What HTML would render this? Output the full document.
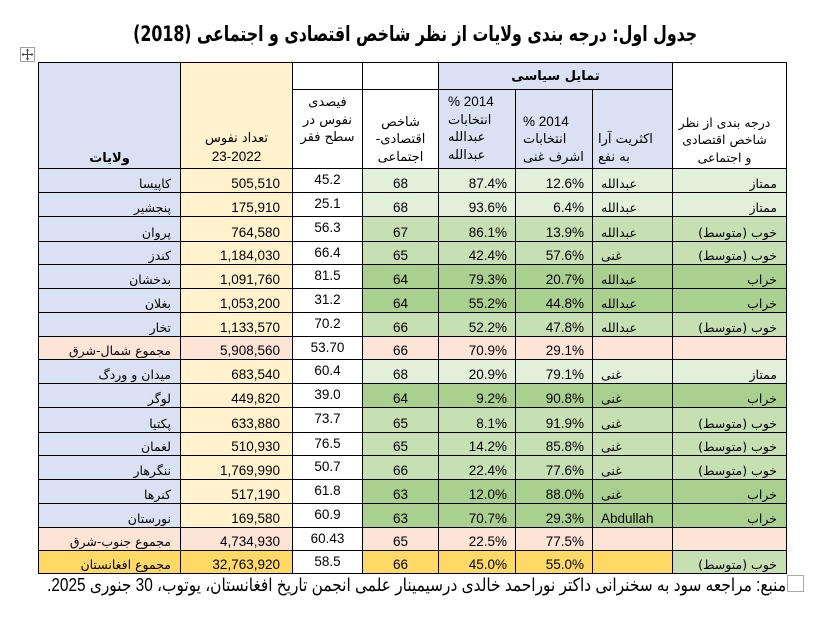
<!DOCTYPE html>
<html><head><meta charset="utf-8">
<style>
html,body{margin:0;padding:0;background:#fff;}
#pg{position:relative;width:820px;height:620px;overflow:hidden;background:#fff;font-family:"Liberation Sans","DejaVu Sans",sans-serif;color:#000;}
#title{position:absolute;left:0;top:22px;width:830px;text-align:center;white-space:nowrap;line-height:24px;}
#title span{display:inline-block;font-weight:bold;font-size:21px;font-family:"DejaVu Sans","Liberation Sans",sans-serif;direction:rtl;transform-origin:50% 50%;}
#foot{position:absolute;right:34px;top:574px;white-space:nowrap;line-height:22px;text-align:right;}
#foot span{display:inline-block;font-size:18px;font-family:"Liberation Sans","DejaVu Sans",sans-serif;direction:rtl;transform-origin:100% 50%;}
#box{position:absolute;left:787px;top:575px;width:15px;height:15px;border:1px solid #a8a8a8;background:#fff;}
#mv{position:absolute;left:20px;top:47px;width:13px;height:13px;border:1px solid #a0a0a0;background:#fff;}
table{position:absolute;left:38px;top:62px;border-collapse:collapse;table-layout:fixed;width:749px;}
td{border:1px solid #000;padding:0;font-size:13.5px;line-height:16px;vertical-align:bottom;white-space:nowrap;overflow:hidden;}
.B{background:#D9E1F2}.Y{background:#FFF2CC}.L{background:#E2EFDA}.M{background:#C6E0B4}.D{background:#A9D08E}.P{background:#FCE4D6}.G{background:#FFD966}
.a{text-align:right;padding-right:9px;font-family:"DejaVu Sans",sans-serif;font-size:12.5px;direction:rtl;}
.n{text-align:right;padding-right:12px;}
.f{text-align:center;vertical-align:top;padding-top:3px;}
.c{text-align:center;}
.p{text-align:right;padding-right:8px;}
.l{text-align:left;padding-left:8px;font-family:"DejaVu Sans",sans-serif;font-size:12.5px;direction:rtl;}
.lat{font-family:"Liberation Sans",sans-serif;font-size:13.5px;direction:ltr;}
.h{font-family:"DejaVu Sans","Liberation Sans",sans-serif;font-size:13px;line-height:17.5px;direction:rtl;}
</style></head><body>
<div id="pg">
<div id="title"><span id="tt">جدول اول: درجه بندی ولایات از نظر شاخص اقتصادی و اجتماعی (2018)</span></div>
<div id="mv"><svg width="13" height="13" viewBox="0 0 13 13"><g stroke="#444" stroke-width="1" fill="none"><line x1="6.5" y1="1" x2="6.5" y2="12"/><line x1="1" y1="6.5" x2="12" y2="6.5"/></g><g fill="#444"><polygon points="6.5,0.5 4.8,2.6 8.2,2.6"/><polygon points="6.5,12.5 4.8,10.4 8.2,10.4"/><polygon points="0.5,6.5 2.6,4.8 2.6,8.2"/><polygon points="12.5,6.5 10.4,4.8 10.4,8.2"/></g></svg></div>
<table>
<colgroup><col style="width:142px"><col style="width:112px"><col style="width:70px"><col style="width:76px"><col style="width:77px"><col style="width:77px"><col style="width:80px"><col style="width:114px"></colgroup>
<tr style="height:27px">
<td rowspan="2" class="B h" style="text-align:center;font-weight:bold;padding-bottom:1px;">ولایات</td>
<td rowspan="2" class="Y h" style="text-align:center;padding-bottom:2px;">تعداد نفوس<br><span class="lat">23-2022</span></td>
<td></td>
<td></td>
<td colspan="3" class="B h" style="text-align:center;font-weight:bold;vertical-align:middle;padding-top:2px;">تمایل سیاسی</td>
<td rowspan="2" class="h" style="text-align:center;padding-right:10px;padding-bottom:2px;font-size:12.5px;">درجه بندی از نظر<br>شاخص اقتصادی<br>و اجتماعی</td>
</tr>
<tr style="height:79px">
<td class="h" style="text-align:center;vertical-align:top;padding-top:4px;">فیصدی<br>نفوس در<br>سطح فقر</td>
<td class="h" style="text-align:center;padding-bottom:2px;">شاخص<br>اقتصادی-<br>اجتماعی</td>
<td class="B h" style="text-align:left;padding-left:9px;padding-bottom:4px;"><span class="lat" dir="ltr">% 2014</span><br>انتخابات<br>عبدالله<br>عبدالله</td>
<td class="B h" style="text-align:left;padding-left:7px;padding-bottom:2px;"><span class="lat" dir="ltr">% 2014</span><br>انتخابات<br>اشرف غنی</td>
<td class="B h" style="text-align:left;padding-left:5px;padding-bottom:2px;">اکثریت آرا<br>به نفع</td>
</tr>
<tr style="height:24px"><td class="B a">کاپیسا</td><td class="Y n">505,510</td><td class="f">45.2</td><td class="L c">68</td><td class="L p">87.4%</td><td class="L p">12.6%</td><td class="L l">عبدالله</td><td class="L a">ممتاز</td></tr>
<tr style="height:24px"><td class="B a">پنجشیر</td><td class="Y n">175,910</td><td class="f">25.1</td><td class="L c">68</td><td class="L p">93.6%</td><td class="L p">6.4%</td><td class="L l">عبدالله</td><td class="L a">ممتاز</td></tr>
<tr style="height:25px"><td class="B a">پروان</td><td class="Y n">764,580</td><td class="f">56.3</td><td class="M c">67</td><td class="M p">86.1%</td><td class="M p">13.9%</td><td class="M l">عبدالله</td><td class="M a">خوب (متوسط)</td></tr>
<tr style="height:23px"><td class="B a">کندز</td><td class="Y n">1,184,030</td><td class="f">66.4</td><td class="M c">65</td><td class="M p">42.4%</td><td class="M p">57.6%</td><td class="M l">غنی</td><td class="M a">خوب (متوسط)</td></tr>
<tr style="height:24px"><td class="B a">بدخشان</td><td class="Y n">1,091,760</td><td class="f">81.5</td><td class="D c">64</td><td class="D p">79.3%</td><td class="D p">20.7%</td><td class="D l">عبدالله</td><td class="D a">خراب</td></tr>
<tr style="height:24px"><td class="B a">بغلان</td><td class="Y n">1,053,200</td><td class="f">31.2</td><td class="D c">64</td><td class="D p">55.2%</td><td class="D p">44.8%</td><td class="D l">عبدالله</td><td class="D a">خراب</td></tr>
<tr style="height:24px"><td class="B a">تخار</td><td class="Y n">1,133,570</td><td class="f">70.2</td><td class="M c">66</td><td class="M p">52.2%</td><td class="M p">47.8%</td><td class="M l">عبدالله</td><td class="M a">خوب (متوسط)</td></tr>
<tr style="height:23px"><td class="P a">مجموع شمال-شرق</td><td class="P n">5,908,560</td><td class="f">53.70</td><td class="P c">66</td><td class="P p">70.9%</td><td class="P p">29.1%</td><td class="P l"></td><td class="P a"></td></tr>
<tr style="height:24px"><td class="B a">میدان و وردگ</td><td class="Y n">683,540</td><td class="f">60.4</td><td class="L c">68</td><td class="L p">20.9%</td><td class="L p">79.1%</td><td class="L l">غنی</td><td class="L a">ممتاز</td></tr>
<tr style="height:24px"><td class="B a">لوگر</td><td class="Y n">449,820</td><td class="f">39.0</td><td class="D c">64</td><td class="D p">9.2%</td><td class="D p">90.8%</td><td class="D l">غنی</td><td class="D a">خراب</td></tr>
<tr style="height:25px"><td class="B a">پکتیا</td><td class="Y n">633,880</td><td class="f">73.7</td><td class="M c">65</td><td class="M p">8.1%</td><td class="M p">91.9%</td><td class="M l">غنی</td><td class="M a">خوب (متوسط)</td></tr>
<tr style="height:23px"><td class="B a">لغمان</td><td class="Y n">510,930</td><td class="f">76.5</td><td class="M c">65</td><td class="M p">14.2%</td><td class="M p">85.8%</td><td class="M l">غنی</td><td class="M a">خوب (متوسط)</td></tr>
<tr style="height:24px"><td class="B a">ننگرهار</td><td class="Y n">1,769,990</td><td class="f">50.7</td><td class="M c">66</td><td class="M p">22.4%</td><td class="M p">77.6%</td><td class="M l">غنی</td><td class="M a">خوب (متوسط)</td></tr>
<tr style="height:24px"><td class="B a">کنرها</td><td class="Y n">517,190</td><td class="f">61.8</td><td class="D c">63</td><td class="D p">12.0%</td><td class="D p">88.0%</td><td class="D l">غنی</td><td class="D a">خراب</td></tr>
<tr style="height:24px"><td class="B a">نورستان</td><td class="Y n">169,580</td><td class="f">60.9</td><td class="D c">63</td><td class="D p">70.7%</td><td class="D p">29.3%</td><td class="D l"><span class="lat">Abdullah</span></td><td class="D a">خراب</td></tr>
<tr style="height:23px"><td class="P a">مجموع جنوب-شرق</td><td class="P n">4,734,930</td><td class="f">60.43</td><td class="P c">65</td><td class="P p">22.5%</td><td class="P p">77.5%</td><td class="P l"></td><td class="P a"></td></tr>
<tr style="height:23px"><td class="G a">مجموع افغانستان</td><td class="G n">32,763,920</td><td class="f">58.5</td><td class="G c">66</td><td class="G p">45.0%</td><td class="G p">55.0%</td><td class="G l"></td><td class="M a">خوب (متوسط)</td></tr>
</table>
<div id="foot"><span id="ft">منبع: مراجعه سود به سخنرانی داکتر نوراحمد خالدی درسیمینار علمی انجمن تاریخ افغانستان، یوتوب، 30 جنوری 2025.</span></div>
<div id="box"></div>
</div>
<script>
(function(){
function fit(id,w){var e=document.getElementById(id);if(!e)return;var r=e.getBoundingClientRect().width;if(r>0){e.style.transform='scaleX('+(w/r)+')';}}
fit('tt',564);fit('ft',739);
})();
</script>
</body></html>
